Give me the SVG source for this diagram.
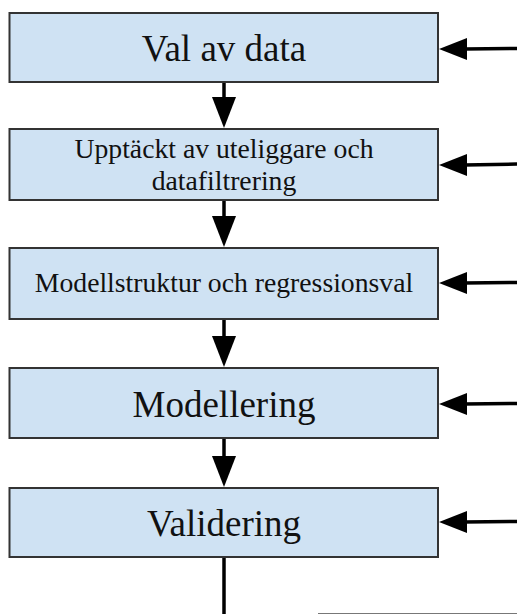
<svg xmlns="http://www.w3.org/2000/svg" width="517" height="614" viewBox="0 0 517 614">
<style>
.box{fill:#cfe2f3;stroke:#333;stroke-width:2}
.t{font-family:"Liberation Serif","Times New Roman",serif;fill:#111;text-anchor:middle}
.big{font-size:37px}
.small{font-size:27.7px}
.c{stroke:#000;stroke-width:3.5;fill:none}
.h{fill:#000}
</style>
<rect width="517" height="614" fill="#fff"/>
<g id="n1"><rect class="box" x="9.5" y="13" width="428.5" height="69"/><text class="t big" x="224" y="61">Val av data</text></g>
<g id="n2"><rect class="box" x="9.5" y="129" width="428.5" height="71"/><text class="t small" x="224" y="158">Upptäckt av uteliggare och</text><text class="t small" x="224" y="190">datafiltrering</text></g>
<g id="n3"><rect class="box" x="9.5" y="248" width="428.5" height="71"/><text class="t small" x="224" y="292">Modellstruktur och regressionsval</text></g>
<g id="n4"><rect class="box" x="9.5" y="368" width="428.5" height="70"/><text class="t big" x="224" y="417">Modellering</text></g>
<g id="n5"><rect class="box" x="9.5" y="488" width="428.5" height="69"/><text class="t big" x="224" y="536">Validering</text></g>
<g id="connectors">
<line class="c" x1="224" y1="83" x2="224" y2="100"/><polygon class="h" points="212,97 236,97 224,128"/>
<line class="c" x1="224" y1="201" x2="224" y2="219"/><polygon class="h" points="212,216 236,216 224,247"/>
<line class="c" x1="224" y1="320" x2="224" y2="339"/><polygon class="h" points="212,336 236,336 224,367"/>
<line class="c" x1="224" y1="439" x2="224" y2="459"/><polygon class="h" points="212,456 236,456 224,487"/>
<line class="c" x1="224" y1="558" x2="224" y2="614"/>
<line x1="318" y1="613.5" x2="517" y2="613.5" stroke="#777" stroke-width="1.2"/>
<line class="c" x1="517" y1="48.5" x2="464" y2="49"/><polygon class="h" points="439,49 467,38 467,60"/>
<line class="c" x1="517" y1="164" x2="464" y2="165"/><polygon class="h" points="439,165 467,154 467,176"/>
<line class="c" x1="517" y1="282.5" x2="464" y2="283"/><polygon class="h" points="439,283 467,272 467,294"/>
<line class="c" x1="517" y1="403.5" x2="464" y2="404"/><polygon class="h" points="439,404 467,393 467,415"/>
<line class="c" x1="517" y1="521.5" x2="464" y2="522"/><polygon class="h" points="439,522 467,511 467,533"/>
</g>
</svg>
